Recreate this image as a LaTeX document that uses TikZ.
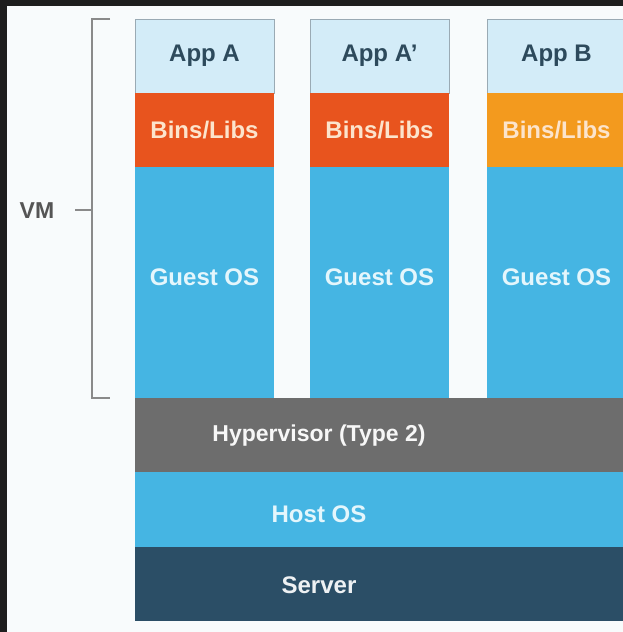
\documentclass[tikz,border=0pt]{standalone}
\usepackage{fontspec}
\setmainfont{Liberation Sans}
\definecolor{appfill}{HTML}{D3ECF8}
\definecolor{appborder}{HTML}{9AAAB4}
\definecolor{apptext}{HTML}{2D4A5C}
\definecolor{binsred}{HTML}{E8541E}
\definecolor{binsorange}{HTML}{F39A1E}
\definecolor{binstext}{HTML}{FCE4CC}
\definecolor{osblue}{HTML}{45B5E3}
\definecolor{ostext}{HTML}{E4F6FC}
\definecolor{hypgray}{HTML}{6D6D6D}
\definecolor{servernavy}{HTML}{2B4E66}
\definecolor{bgwhite}{HTML}{F8FBFC}
\definecolor{framedark}{HTML}{1E1E1E}
\definecolor{bracketgray}{HTML}{8A8A8A}
\definecolor{vmtext}{HTML}{555555}
\tikzset{
  layer/.style={anchor=north west, inner sep=0pt, outer sep=0pt, minimum width=139pt, font=\fontsize{24}{28}\selectfont\bfseries},
  appbox/.style={layer, fill=appfill, draw=appborder, line width=0.8pt, minimum height=74pt, text=apptext},
  binsbox/.style={layer, minimum height=74pt, text=binstext},
  guestbox/.style={layer, fill=osblue, minimum height=231pt, text=ostext, text height=17pt, text depth=11pt},
  bandtext/.style={inner sep=0pt, text height=17pt, text depth=0pt, font=\fontsize{24}{28}\selectfont\bfseries},
  bracketline/.style={draw=bracketgray, line width=1.1pt}
}
\begin{document}
\begin{tikzpicture}[x=1pt,y=-1pt]
\useasboundingbox (0,0) rectangle (623,632);
\fill[framedark] (0,0) rectangle (623,632);
\fill[bgwhite] (7,6) rectangle (623,632);
\begin{scope}
\clip (7,6) rectangle (623,632);
% columns
\node[appbox] (appA) at (135,19) {App A};
\node[binsbox, fill=binsred] (binsA) at (135,93) {Bins/Libs};
\node[guestbox] (osA) at (135,167) {Guest OS};
\node[appbox] (appA2) at (310,19) {App A’};
\node[binsbox, fill=binsred] (binsA2) at (310,93) {Bins/Libs};
\node[guestbox] (osA2) at (310,167) {Guest OS};
\node[appbox] (appB) at (487,19) {App B};
\node[binsbox, fill=binsorange] (binsB) at (487,93) {Bins/Libs};
\node[guestbox] (osB) at (487,167) {Guest OS};
% bands
\fill[hypgray] (135,398) rectangle (640,472);
\fill[osblue] (135,472) rectangle (640,547);
\fill[servernavy] (135,547) rectangle (640,621);
\node[bandtext, text=white!94!gray, font=\fontsize{23}{28}\selectfont\bfseries] (hyp) at (319,433) {Hypervisor (Type 2)};
\node[bandtext, text=ostext] (host) at (319,514) {Host OS};
\node[bandtext, text=white!92!servernavy] (server) at (319,585) {Server};
\end{scope}
% bracket
\draw[bracketline] (110,19) -- (92,19) -- (92,398) -- (110,398);
\coordinate (brk) at (92,210);
\node[bandtext, text=vmtext, font=\fontsize{23}{28}\selectfont\bfseries] (vm) at (37,210) {VM};
\draw[bracketline] (75,210) -- (brk);
\end{tikzpicture}
\end{document}
